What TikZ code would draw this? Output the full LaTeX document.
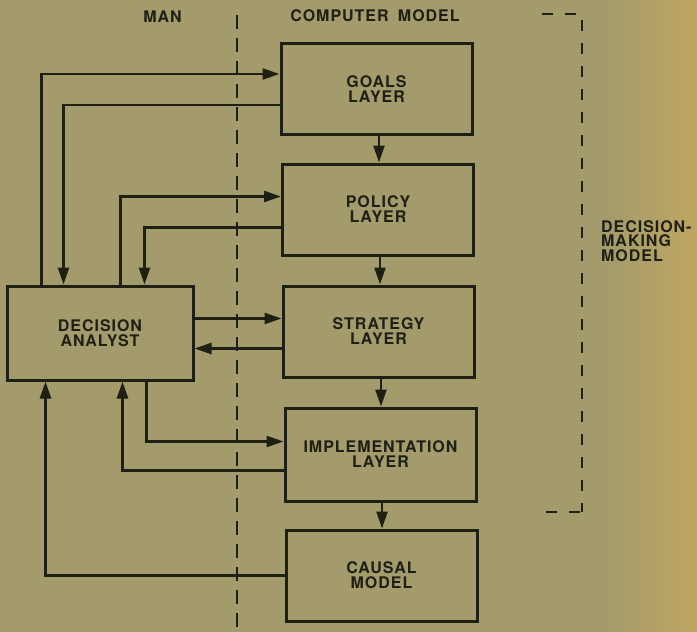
\documentclass[tikz,border=0pt]{standalone}
\usepackage{fontspec}
\newfontfamily\labfont[LetterSpace=6]{TeX Gyre Heros}
\usetikzlibrary{arrows.meta,calc}
\definecolor{bg}{RGB}{163,155,108}
\definecolor{bgr}{RGB}{192,166,96}
\definecolor{ink}{RGB}{30,32,20}
\tikzset{
  box/.style={draw=ink, line width=3pt, minimum width=191pt, minimum height=91pt,
    inner sep=0pt, align=center, text=ink, font=\labfont\bfseries\fontsize{16}{15}\selectfont},
  lab/.style={text=ink, inner sep=0pt, font=\labfont\bfseries\fontsize{16}{14.5}\selectfont},
  arr/.style={draw=ink, line width=2.6pt, -{Triangle[length=17pt,width=11pt]}},
  dashline/.style={draw=ink, line width=2.6pt, dash pattern=on 14pt off 9pt}
}
\begin{document}
\begin{tikzpicture}[x=1pt,y=-1pt]
\fill[bg] (0,0) rectangle (697,632);
\shade[left color=bg, right color=bgr] (605,0) rectangle (697,632);
\useasboundingbox (0,0) rectangle (697,632);

% boxes
\node[box] (G) at (376.5,89) {GOALS\\LAYER};
\node[box] (P) at (378,209.5) {POLICY\\LAYER};
\node[box] (S) at (378.5,331.5) {STRATEGY\\LAYER};
\node[box, minimum height=93pt] (I) at (380.5,454.5) {IMPLEMENTATION\\LAYER};
\node[box] (C) at (381.5,575.5) {CAUSAL\\MODEL};
\node[box, minimum width=186pt, minimum height=94pt] (DA) at (100,333) {DECISION\\ANALYST};

% headings
\node[lab, anchor=base] (man) at (162.5,22) {MAN};
\node[lab, anchor=base] (cm) at (375,21) {COMPUTER\hspace{4pt} MODEL};
\node[lab, anchor=base west, align=left] (dmm) at (601,261) {DECISION-\\MAKING\\MODEL};

% divider and bracket
\coordinate (d1) at (237,15);
\coordinate (d2) at (237,632);
\draw[dashline] (d1) -- (d2);
\coordinate (b1) at (542,14);
\coordinate (b2) at (582,14);
\coordinate (b3) at (582,512);
\coordinate (b4) at (546,512);
\draw[dashline, dash pattern=on 11pt off 12pt] (b1) -- (b2) -- (b3);
\draw[dashline, dash pattern=on 11pt off 12pt] (b4) -- (b3);

% vertical arrows
\draw[arr] ($(G.south)+(2.5,0)$) -- ($(P.north)+(1,0)$);
\draw[arr] ($(P.south)+(2,0)$) -- ($(S.north)+(1.5,0)$);
\draw[arr] ($(S.south)+(2.5,0)$) -- ($(I.north)+(0.5,0)$);
\draw[arr] ($(I.south)+(1.5,0)$) -- ($(C.north)+(0.5,0)$);

% feedback loops
\draw[arr] ($(DA.north west)+(36,0)$) |- ($(G.north west)+(0,32)$);
\draw[arr] ($(G.north west)+(0,63)$) -| ($(DA.north west)+(58,0)$);
\draw[arr] ($(DA.north west)+(115,0)$) |- ($(P.north west)+(0,34)$);
\draw[arr] ($(P.north west)+(0,65)$) -| ($(DA.north west)+(139,0)$);
\draw[arr] ($(DA.north east)+(0,34)$) -- ($(S.north west)+(0,34)$);
\draw[arr] ($(S.north west)+(0,64)$) -- ($(DA.north east)+(0,64)$);
\draw[arr] ($(DA.south west)+(141,0)$) |- ($(I.north west)+(0,35)$);
\draw[arr] ($(I.north west)+(0,64)$) -| ($(DA.south west)+(117,0)$);
\draw[arr] ($(C.north west)+(0,47)$) -| ($(DA.south west)+(40,0)$);
\end{tikzpicture}
\end{document}
